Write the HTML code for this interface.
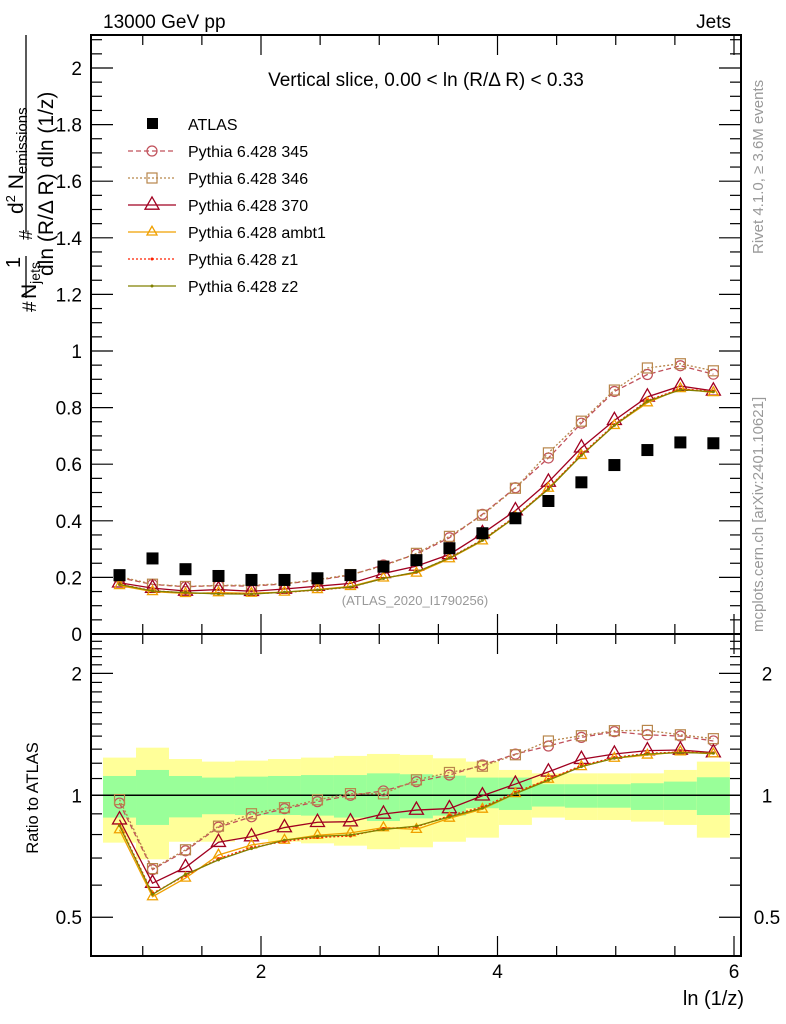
<!DOCTYPE html>
<html><head><meta charset="utf-8">
<style>
html,body{margin:0;padding:0;background:#fff;}
svg{display:block;font-family:"Liberation Sans",Arial,sans-serif;}
</style></head>
<body>
<svg id="chart" width="786" height="1024" viewBox="0 0 786 1024" xmlns="http://www.w3.org/2000/svg">
<g id="bands"></g>
<g id="series"></g>
<g id="axes"></g>
<text x="103" y="28" font-size="19">13000 GeV pp</text>
<text x="731" y="28" font-size="19" text-anchor="end">Jets</text>
<text x="426" y="86" font-size="19" text-anchor="middle">Vertical slice, 0.00 &lt; ln (R/Δ R) &lt; 0.33</text>
<text x="415" y="605" font-size="13" fill="#999" text-anchor="middle">(ATLAS_2020_I1790256)</text>
<text transform="translate(763,254) rotate(-90)" font-size="15" fill="#999">Rivet 4.1.0, ≥ 3.6M events</text>
<text transform="translate(763,632) rotate(-90)" font-size="15" fill="#999">mcplots.cern.ch [arXiv:2401.10621]</text>
<text transform="translate(38,798) rotate(-90)" font-size="16.5" text-anchor="middle">Ratio to ATLAS</text>
<text x="744" y="1005" font-size="20" text-anchor="end">ln (1/z)</text>
<g font-size="21">
  <text transform="translate(36,312) rotate(-90)" font-size="19">#</text>
  <text transform="translate(20,268) rotate(-90)" font-size="20">1</text>
  <line x1="26" y1="256" x2="26" y2="298" stroke="#000" stroke-width="1.3"/>
  <text transform="translate(36,299) rotate(-90)">N<tspan font-size="14" dy="4">jets</tspan></text>
  <text transform="translate(32,240) rotate(-90)" font-size="18">#</text>
  <line x1="26" y1="35" x2="26" y2="232" stroke="#000" stroke-width="1.3"/>
  <text transform="translate(23,214) rotate(-90)">d<tspan font-size="13" dy="-8">2</tspan><tspan dy="8"> N</tspan><tspan font-size="15" dy="4">emissions</tspan></text>
  <text transform="translate(53,276) rotate(-90)">dln (R/Δ R) dln (1/z)</text>
</g>
<g id="legend"></g>
</svg>
<script>
const xCenters=[0.8035,1.0825,1.3615,1.6405,1.9195,2.1985,2.4775,2.7565,3.0355,3.3145,3.5935,3.8725,4.1515,4.4305,4.7095,4.9885,5.2675,5.5465,5.8255];
const binHalfWidth=0.1395;
const atlas=[0.208,0.267,0.229,0.205,0.191,0.191,0.197,0.208,0.238,0.261,0.303,0.356,0.409,0.47,0.536,0.597,0.65,0.677,0.674];
const py345=[0.199,0.175,0.167,0.171,0.169,0.177,0.190,0.208,0.244,0.282,0.340,0.423,0.517,0.622,0.745,0.857,0.917,0.948,0.918];
const py346=[0.203,0.176,0.168,0.172,0.172,0.178,0.192,0.210,0.240,0.285,0.345,0.420,0.515,0.640,0.752,0.862,0.940,0.955,0.930];
const py370=[0.181,0.162,0.152,0.157,0.151,0.159,0.169,0.179,0.214,0.240,0.281,0.355,0.436,0.537,0.658,0.755,0.838,0.876,0.859];
const pyAmbt1=[0.171,0.150,0.143,0.146,0.144,0.148,0.157,0.168,0.198,0.215,0.266,0.329,0.413,0.515,0.631,0.737,0.817,0.867,0.853];
const pyZ1=[0.176,0.153,0.145,0.143,0.142,0.147,0.155,0.165,0.197,0.218,0.270,0.333,0.416,0.515,0.635,0.740,0.825,0.866,0.858];
const pyZ2=[0.175,0.152,0.146,0.142,0.141,0.148,0.156,0.166,0.196,0.219,0.268,0.331,0.413,0.512,0.631,0.737,0.822,0.863,0.856];
const greenHi=[1.116,1.155,1.116,1.106,1.112,1.116,1.122,1.122,1.133,1.127,1.118,1.106,1.106,1.065,1.065,1.065,1.071,1.081,1.108];
const greenLo=[0.881,0.845,0.882,0.898,0.894,0.894,0.891,0.881,0.864,0.877,0.891,0.929,0.920,0.938,0.932,0.932,0.920,0.920,0.894];
const yellowHi=[1.239,1.311,1.229,1.211,1.218,1.229,1.239,1.251,1.265,1.258,1.234,1.211,1.155,1.133,1.133,1.133,1.133,1.155,1.211];
const yellowLo=[0.764,0.695,0.768,0.768,0.779,0.768,0.761,0.751,0.736,0.744,0.768,0.786,0.845,0.881,0.869,0.869,0.861,0.845,0.786];
const xTickLabels=["2","4","6"];
const mainYTickLabels=["0","0.2","0.4","0.6","0.8","1","1.2","1.4","1.6","1.8","2"];
const ratioTickLabels=["0.5","1","2"];
const legendLabels=["ATLAS","Pythia 6.428 345","Pythia 6.428 346","Pythia 6.428 370","Pythia 6.428 ambt1","Pythia 6.428 z1","Pythia 6.428 z2"];

const NS="http://www.w3.org/2000/svg";
const L=91,R=741,T=35,MB=634,RB=956;
const X=v=>261+(v-2)*118.25;
const Y=v=>634-v*283;
const YR=r=>795.3-405*Math.log10(r);
function mk(tag,attrs,parent){const e=document.createElementNS(NS,tag);for(const k in attrs)e.setAttribute(k,attrs[k]);parent.appendChild(e);return e;}
const bands=document.getElementById('bands'),ser=document.getElementById('series'),ax=document.getElementById('axes'),leg=document.getElementById('legend');

for(let i=0;i<xCenters.length;i++){
  const x0=X(xCenters[i]-binHalfWidth),x1=X(xCenters[i]+binHalfWidth);
  const yb=mk('rect',{x:x0,y:YR(yellowHi[i]),width:x1-x0,height:YR(yellowLo[i])-YR(yellowHi[i]),fill:'#ffff99'},bands);
  
  
  const gb=mk('rect',{x:x0,y:YR(greenHi[i]),width:x1-x0,height:YR(greenLo[i])-YR(greenHi[i]),fill:'#99ff99'},bands);
  
  
}
const ref=mk('line',{x1:L,x2:R,y1:YR(1),y2:YR(1),stroke:'#000','stroke-width':1.5},bands);



const specs=[
 {vals:py345,name:'pythia-345',color:'#c0505a',dash:'5,3',marker:'circle',size:5},
 {vals:py346,name:'pythia-346',color:'#b8864b',dash:'2,2',marker:'square',size:5},
 {vals:py370,name:'pythia-370',color:'#a00020',dash:'',marker:'tri',size:7},
 {vals:pyAmbt1,name:'pythia-ambt1',color:'#f0a000',dash:'',marker:'tri',size:5},
 {vals:pyZ1,name:'pythia-z1',color:'#ff2000',dash:'2,2',marker:'dot',size:1.5},
 {vals:pyZ2,name:'pythia-z2',color:'#808000',dash:'',marker:'dot',size:1.5}
];
function marker(g,type,cx,cy,s,color){
  if(type==='circle') return mk('circle',{cx:cx,cy:cy,r:s,fill:'none',stroke:color,'stroke-width':1.2},g);
  if(type==='square') return mk('rect',{x:cx-s,y:cy-s,width:2*s,height:2*s,fill:'none',stroke:color,'stroke-width':1.2},g);
  if(type==='tri') return mk('polygon',{points:cx+','+(cy-s*1.15)+' '+(cx-s)+','+(cy+s*0.6)+' '+(cx+s)+','+(cy+s*0.6),fill:'none',stroke:color,'stroke-width':1.3},g);
  return mk('circle',{cx:cx,cy:cy,r:s,fill:color},g);
}
specs.forEach(s=>{
  const g=mk('g',{},ser);
  
  
  const pm=s.vals.map((v,i)=>X(xCenters[i])+','+Y(v)).join(' ');
  const pr=s.vals.map((v,i)=>X(xCenters[i])+','+YR(v/atlas[i])).join(' ');
  const a1={points:pm,fill:'none',stroke:s.color,'stroke-width':1.3};
  const a2={points:pr,fill:'none',stroke:s.color,'stroke-width':1.3};
  if(s.dash){a1['stroke-dasharray']=s.dash;a2['stroke-dasharray']=s.dash;}
  const l1=mk('polyline',a1,g);
  
  
  const l2=mk('polyline',a2,g);
  
  
  s.vals.forEach((v,i)=>{
    const m=marker(g,s.marker,X(xCenters[i]),Y(v),s.size,s.color);
    
    
    const m2=marker(g,s.marker,X(xCenters[i]),YR(v/atlas[i]),s.size,s.color);
    
    
  });
});
atlas.forEach((v,i)=>{
  const m=mk('rect',{x:X(xCenters[i])-6,y:Y(v)-6,width:12,height:12,fill:'#000'},ser);
  
  
});

[[T,MB],[MB,RB]].forEach((p,k)=>{
  const f=mk('rect',{x:L,y:p[0],width:R-L,height:p[1]-p[0],fill:'none',stroke:'#000','stroke-width':2},ax);
  
  
});
for(let k=2;k<=12;k++){
  const v=k/2, x=X(v); if(x<L||x>R) continue;
  const major=(k%4===0), len=major?20:10;
  [[T,1],[MB,-1],[MB,1],[RB,-1]].forEach(p=>mk('line',{x1:x,x2:x,y1:p[0],y2:p[0]+p[1]*len,stroke:'#000','stroke-width':1.2},ax));
}
xTickLabels.forEach(lbl=>{
  const t=mk('text',{x:X(+lbl),y:978,'font-size':19,'text-anchor':'middle'},ax);
  t.textContent=lbl;
  
  
});
for(let k=0;k<=42;k++){
  const v=k*0.05,y=Y(v); if(y<T) continue;
  const len=(k%4===0)?22:11;
  mk('line',{x1:L,x2:L+len,y1:y,y2:y,stroke:'#000','stroke-width':1.2},ax);
  mk('line',{x1:R,x2:R-len,y1:y,y2:y,stroke:'#000','stroke-width':1.2},ax);
}
mainYTickLabels.forEach(lbl=>{
  const t=mk('text',{x:82,y:Y(+lbl)+7,'font-size':19,'text-anchor':'end'},ax);
  t.textContent=lbl;
  
  
});
const rt=[];for(let v=0.4;v<2.55;v+=0.1)rt.push(+v.toFixed(1));
rt.forEach(v=>{
  const y=YR(v); if(y<MB+1||y>RB-1) return;
  const major=(v===0.5||v===1||v===2),len=major?22:11;
  mk('line',{x1:L,x2:L+len,y1:y,y2:y,stroke:'#000','stroke-width':1.2},ax);
  mk('line',{x1:R,x2:R-len,y1:y,y2:y,stroke:'#000','stroke-width':1.2},ax);
});
ratioTickLabels.forEach(lbl=>{
  const t=mk('text',{x:82,y:YR(+lbl)+7,'font-size':19,'text-anchor':'end'},ax);
  t.textContent=lbl;
  
  
  const t2=mk('text',{x:767,y:YR(+lbl)+7,'font-size':19,'text-anchor':'middle'},ax);
  t2.textContent=lbl;
  
  
});
legendLabels.forEach((lbl,i)=>{
  const y=124+i*27;
  const g=mk('g',{},leg);
  
  
  if(i===0){mk('rect',{x:147,y:y-6,width:11,height:11,fill:'#000'},g);}
  else{
    const s=specs[i-1];
    const la={x1:128,x2:176,y1:y,y2:y,stroke:s.color,'stroke-width':1.3};
    if(s.dash) la['stroke-dasharray']=s.dash;
    mk('line',la,g);
    marker(g,s.marker,152,y,s.size,s.color);
  }
  const t=mk('text',{x:188,y:y+6,'font-size':16},g);
  t.textContent=lbl;
});
</script>
</body></html>
